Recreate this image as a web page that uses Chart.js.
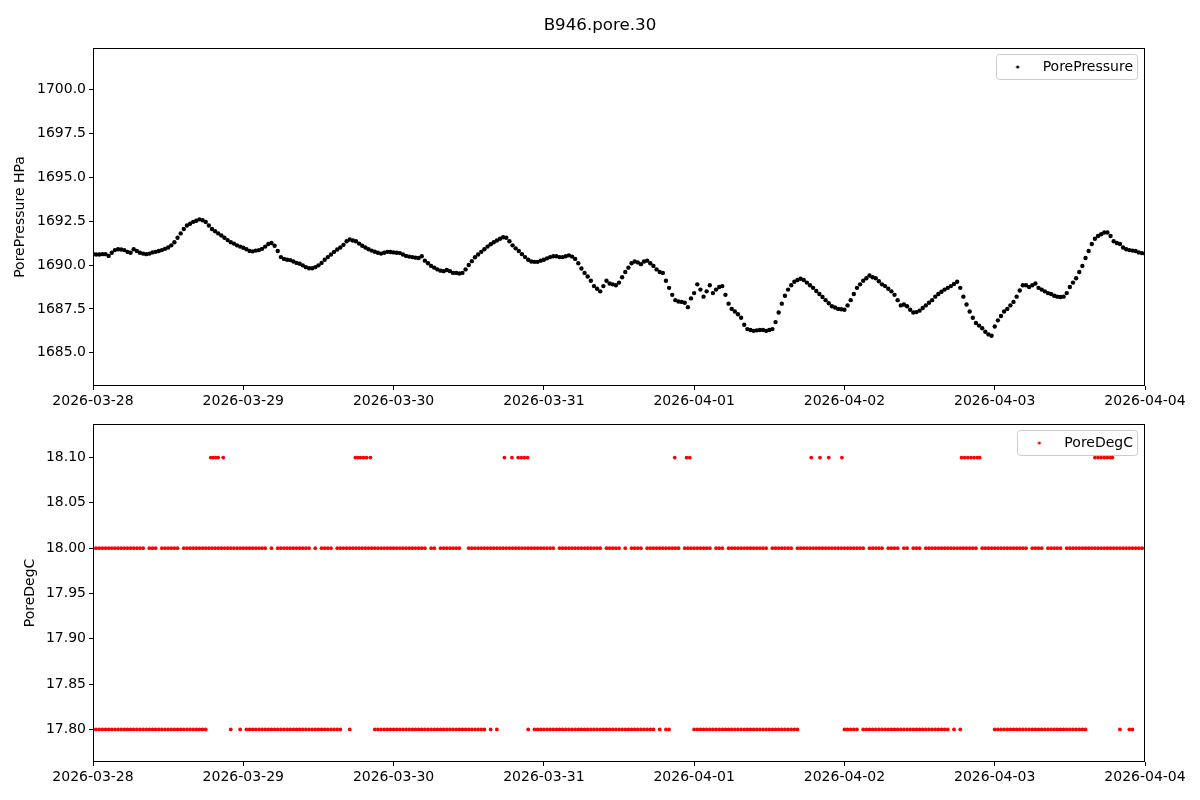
<!DOCTYPE html>
<html>
<head>
<meta charset="utf-8">
<title>B946.pore.30</title>
<script src="https://cdn.jsdelivr.net/npm/chart.js@4.4.1/dist/chart.umd.min.js"></script>
<style>
    body { margin: 0; background: #fff; }
    #wrap { position: relative; width: 1200px; height: 800px; overflow: hidden; }
    #title { position: absolute; top: 14px; left: 0; width: 1200px; text-align: center;
             font-family: 'DejaVu Sans'; font-size: 16.7px; line-height: 20px; color: #000; }
    #pressure-chart { position: absolute; left: 0; top: 0; }
    #temp-chart { position: absolute; left: 0; top: 400px; }
</style>
</head>
<body>
<div id="wrap">
    <canvas id="pressure-chart" width="1200" height="416"></canvas>
    <canvas id="temp-chart" width="1200" height="400"></canvas>
    <div id="title">B946.pore.30</div>
</div>
<script>
// Time axis: hours since 2026-03-28 00:00
const dateTickHours = [0, 24, 48, 72, 96, 120, 144, 168];
const dateLabels = ['2026-03-28', '2026-03-29', '2026-03-30', '2026-03-31',
                    '2026-04-01', '2026-04-02', '2026-04-03', '2026-04-04'];
const sampleStepHours = 0.5;

// PorePressure (HPa), one reading every 30 minutes, 6 hours per row
const porePressure = [
    1690.63, 1690.60, 1690.60, 1690.62, 1690.62, 1690.52, 1690.70, 1690.85, 1690.90, 1690.88, 1690.85, 1690.75,
    1690.70, 1690.90, 1690.80, 1690.70, 1690.65, 1690.62, 1690.65, 1690.72, 1690.75, 1690.80, 1690.85, 1690.92,
    1691.00, 1691.12, 1691.30, 1691.55, 1691.80, 1692.05, 1692.25, 1692.35, 1692.46, 1692.52, 1692.60, 1692.55,
    1692.45, 1692.25, 1692.05, 1691.92, 1691.80, 1691.68, 1691.55, 1691.42, 1691.30, 1691.22, 1691.12, 1691.05,
    1690.98, 1690.90, 1690.80, 1690.78, 1690.82, 1690.85, 1690.92, 1691.05, 1691.20, 1691.25, 1691.10, 1690.80,
    1690.45, 1690.35, 1690.30, 1690.28, 1690.20, 1690.12, 1690.07, 1689.98, 1689.88, 1689.82, 1689.82, 1689.88,
    1689.98, 1690.12, 1690.30, 1690.45, 1690.60, 1690.75, 1690.88, 1691.00, 1691.15, 1691.35, 1691.45, 1691.40,
    1691.35, 1691.22, 1691.10, 1691.00, 1690.90, 1690.82, 1690.76, 1690.70, 1690.65, 1690.70, 1690.75, 1690.74,
    1690.72, 1690.70, 1690.68, 1690.60, 1690.52, 1690.48, 1690.45, 1690.42, 1690.40, 1690.50, 1690.25, 1690.10,
    1689.95, 1689.85, 1689.75, 1689.68, 1689.65, 1689.72, 1689.65, 1689.55, 1689.55, 1689.52, 1689.55, 1689.75,
    1690.00, 1690.22, 1690.44, 1690.60, 1690.75, 1690.90, 1691.05, 1691.18, 1691.30, 1691.40, 1691.50, 1691.58,
    1691.55, 1691.35, 1691.12, 1690.95, 1690.80, 1690.62, 1690.45, 1690.30, 1690.20, 1690.18, 1690.18, 1690.25,
    1690.30, 1690.38, 1690.45, 1690.50, 1690.50, 1690.45, 1690.45, 1690.50, 1690.55, 1690.48, 1690.35, 1690.10,
    1689.80, 1689.55, 1689.35, 1689.10, 1688.80, 1688.65, 1688.50, 1688.80, 1689.10, 1688.95, 1688.90, 1688.85,
    1689.00, 1689.30, 1689.60, 1689.85, 1690.10, 1690.20, 1690.15, 1690.05, 1690.20, 1690.25, 1690.10, 1689.95,
    1689.75, 1689.60, 1689.55, 1689.10, 1688.70, 1688.30, 1688.00, 1687.92, 1687.90, 1687.85, 1687.60, 1688.10,
    1688.40, 1688.90, 1688.60, 1688.20, 1688.50, 1688.85, 1688.40, 1688.60, 1688.75, 1688.80, 1688.30, 1687.80,
    1687.50, 1687.35, 1687.20, 1687.00, 1686.60, 1686.35, 1686.30, 1686.25, 1686.28, 1686.30, 1686.30, 1686.25,
    1686.30, 1686.35, 1686.75, 1687.30, 1687.80, 1688.25, 1688.60, 1688.85, 1689.05, 1689.15, 1689.22, 1689.15,
    1689.00, 1688.85, 1688.70, 1688.52, 1688.35, 1688.18, 1688.00, 1687.82, 1687.65, 1687.58, 1687.50, 1687.48,
    1687.45, 1687.70, 1688.00, 1688.35, 1688.70, 1688.90, 1689.10, 1689.25, 1689.40, 1689.30, 1689.25, 1689.08,
    1688.90, 1688.80, 1688.65, 1688.50, 1688.30, 1688.00, 1687.70, 1687.75, 1687.65, 1687.45, 1687.30, 1687.32,
    1687.40, 1687.55, 1687.70, 1687.85, 1688.00, 1688.20, 1688.35, 1688.48, 1688.60, 1688.70, 1688.80, 1688.92,
    1689.05, 1688.70, 1688.20, 1687.75, 1687.35, 1687.00, 1686.70, 1686.55, 1686.40, 1686.20, 1686.05, 1685.97,
    1686.50, 1686.85, 1687.10, 1687.35, 1687.50, 1687.70, 1687.90, 1688.20, 1688.55, 1688.85, 1688.85, 1688.75,
    1688.85, 1688.95, 1688.70, 1688.60, 1688.50, 1688.40, 1688.35, 1688.25, 1688.20, 1688.18, 1688.20, 1688.40,
    1688.75, 1689.00, 1689.25, 1689.60, 1689.95, 1690.40, 1690.80, 1691.20, 1691.50, 1691.65, 1691.75, 1691.85,
    1691.85, 1691.65, 1691.35, 1691.25, 1691.20, 1691.00, 1690.90, 1690.85, 1690.82, 1690.80, 1690.72, 1690.68,
    1690.65
];
const pressureTicks = [1685.0, 1687.5, 1690.0, 1692.5, 1695.0, 1697.5, 1700.0];

// PoreDegC: which 30-minute slots hold a reading at each level (1 = reading), 6 hours per block
const degC1800Slots = [
    '111111111111', '111110111011', '111101111111', '111111111111',
    '111111110101', '111111111101', '011110111111', '111111111111',
    '111111111110', '110111111100', '111111111111', '111111111111',
    '111101111111', '111111101111', '101011110111', '111111110111',
    '111111011101', '111111111111', '011111110111', '111111111111',
    '111111101111', '101111011011', '101111111111', '111111101111',
    '111111111110', '111101111101', '111111111111', '111111111111',
    '1'
];
const degC1780Slots = [
    '111111111111', '111111111111', '111111111111', '100000001001',
    '011111111111', '111111111111', '111111110010', '000000111111',
    '111111111111', '111111111111', '111111010100', '000000010111',
    '111111111111', '111111111111', '111111111111', '010110000000',
    '111111111111', '111111111111', '111111111100', '000000000000',
    '111110111111', '111111111111', '111111111101', '010000000000',
    '111111111111', '111111111111', '111111000000', '000010011000',
    '0'
];
// occasional 18.10 readings (hours since start)
const degC1810Hours = [
    18.8, 19.2, 19.6, 20.0, 20.8,
    41.9, 42.3, 42.7, 43.2, 43.7, 44.3,
    65.7, 66.9, 67.9, 68.4, 68.9, 69.4,
    92.9, 94.8, 95.3,
    114.7, 116.1, 117.5, 119.6,
    138.7, 139.2, 139.7, 140.2, 140.7, 141.2, 141.6,
    160.0, 160.5, 161.0, 161.5, 162.0, 162.5, 162.8
];
const tempTicks = [17.80, 17.85, 17.90, 17.95, 18.00, 18.05, 18.10];

Chart.defaults.font.family = 'DejaVu Sans';
Chart.defaults.font.size = 14;
Chart.defaults.color = '#000';

const LEGEND_PAD = 12;

function slotPoints(blocks, level) {
    const flags = blocks.join('');
    const pts = [];
    for (let i = 0; i < flags.length; i++) {
        if (flags[i] === '1') pts.push({ x: i * sampleStepHours, y: level });
    }
    return pts;
}

function legendDot(color, r) {
    const c = document.createElement('canvas');
    c.width = 6;
    c.height = 6;
    const g = c.getContext('2d');
    g.fillStyle = color;
    g.beginPath();
    g.arc(3, 3, r, 0, Math.PI * 2);
    g.fill();
    return c;
}

// matplotlib-like frame: legend in the upper right with a box, and four spines
const axesFrame = {
    id: 'axesFrame',
    afterLayout(chart) {
        const legend = chart.legend;
        if (!legend || !legend.legendHitBoxes || !legend.legendHitBoxes.length) return;
        const itemWidth = legend.legendHitBoxes[0].width;
        const left = chart.chartArea.right - LEGEND_PAD - itemWidth - LEGEND_PAD;
        const w = legend.right - legend.left;
        const h = legend.bottom - legend.top;
        legend.left = left;
        legend.right = left + w;
        legend.top = chart.chartArea.top;
        legend.bottom = chart.chartArea.top + h;
    },
    beforeDraw(chart) {
        const legend = chart.legend;
        if (!legend || !legend.legendHitBoxes || !legend.legendHitBoxes.length) return;
        const box = legend.legendHitBoxes[0];
        const ctx = chart.ctx;
        ctx.save();
        ctx.beginPath();
        ctx.roundRect(Math.round(box.left) - 3.5, Math.round(box.top) - 5.5, Math.round(box.width) + 8, Math.round(box.height) + 11, 3);
        ctx.fillStyle = 'rgba(255,255,255,0.8)';
        ctx.fill();
        ctx.strokeStyle = '#cccccc';
        ctx.lineWidth = 1;
        ctx.stroke();
        ctx.restore();
    },
    afterDatasetsDraw(chart) {
        const { ctx, chartArea: a } = chart;
        ctx.save();
        ctx.strokeStyle = '#000';
        ctx.lineWidth = 1;
        ctx.strokeRect(Math.round(a.left) + 0.5, Math.round(a.top) + 0.5,
                       Math.round(a.right - a.left) - 1, Math.round(a.bottom - a.top) - 1);
        ctx.restore();
    }
};

function timeAxis() {
    return {
        type: 'linear',
        min: 0,
        max: 168,
        border: { display: false },
        grid: { drawOnChartArea: false, color: '#000', tickLength: 4 },
        ticks: {
            color: '#000',
            autoSkip: false,
            maxRotation: 0,
            padding: 3,
            callback: (value) => dateLabels[dateTickHours.indexOf(value)]
        },
        afterBuildTicks: (scale) => { scale.ticks = dateTickHours.map(v => ({ value: v })); },
        afterFit: (scale) => { scale.height = 30; }
    };
}

function valueAxis(min, max, ticks, digits, title, titlePad) {
    return {
        type: 'linear',
        min: min,
        max: max,
        border: { display: false },
        grid: { drawOnChartArea: false, color: '#000', tickLength: 4 },
        ticks: { color: '#000', padding: 3, callback: (value) => value.toFixed(digits) },
        afterBuildTicks: (scale) => { scale.ticks = ticks.map(v => ({ value: v })); },
        afterFit: (scale) => { scale.width = 93; },
        title: { display: true, text: title, color: '#000', font: { size: 14 }, padding: { top: titlePad, bottom: 0 } }
    };
}

function legendOptions(color) {
    return {
        position: 'chartArea',
        align: 'start',
        labels: {
            usePointStyle: true,
            pointStyle: legendDot(color, 1.6),
            pointStyleWidth: 36,
            boxHeight: 4,
            padding: LEGEND_PAD,
            color: '#000',
            font: { size: 14 }
        }
    };
}

new Chart(document.getElementById('pressure-chart'), {
    type: 'scatter',
    data: {
        datasets: [{
            label: 'PorePressure',
            data: porePressure.map((v, i) => ({ x: i * sampleStepHours, y: v })),
            pointRadius: 2.2,
            pointBorderWidth: 0,
            pointBackgroundColor: '#000000',
            pointBorderColor: '#000000',
            backgroundColor: '#000000'
        }]
    },
    options: {
        responsive: false,
        animation: false,
        events: [],
        layout: { padding: { top: 48, right: 55, bottom: 0, left: 0 } },
        plugins: {
            legend: legendOptions('#000000'),
            tooltip: { enabled: false }
        },
        scales: {
            x: timeAxis(),
            y: valueAxis(1683.11, 1702.36, pressureTicks, 1, 'PorePressure HPa', 12)
        }
    },
    plugins: [axesFrame]
});

const tempPoints = slotPoints(degC1800Slots, 18.00)
    .concat(slotPoints(degC1780Slots, 17.80))
    .concat(degC1810Hours.map(h => ({ x: h, y: 18.10 })));

new Chart(document.getElementById('temp-chart'), {
    type: 'scatter',
    data: {
        datasets: [{
            label: 'PoreDegC',
            data: tempPoints,
            pointRadius: 1.9,
            pointBorderWidth: 0,
            pointBackgroundColor: '#ff0000',
            pointBorderColor: '#ff0000',
            backgroundColor: '#ff0000'
        }]
    },
    options: {
        responsive: false,
        animation: false,
        events: [],
        layout: { padding: { top: 24, right: 55, bottom: 8, left: 0 } },
        plugins: {
            legend: legendOptions('#ff0000'),
            tooltip: { enabled: false }
        },
        scales: {
            x: timeAxis(),
            y: valueAxis(17.764, 18.137, tempTicks, 2, 'PoreDegC', 22)
        }
    },
    plugins: [axesFrame]
});
</script>
</body>
</html>
